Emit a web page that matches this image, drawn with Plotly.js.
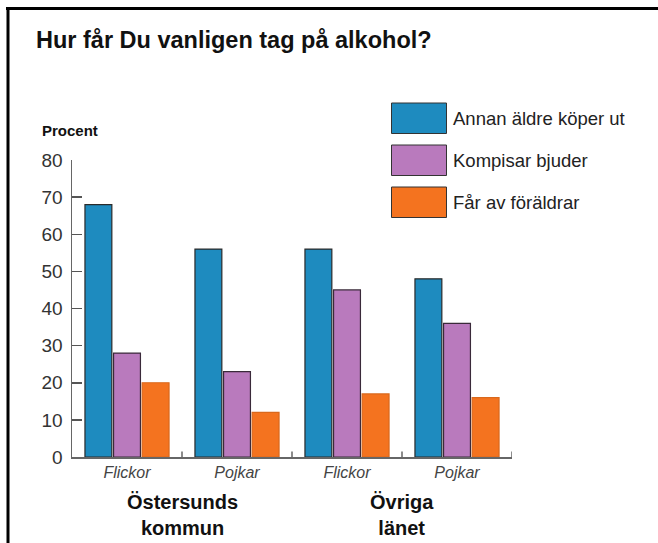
<!DOCTYPE html>
<html>
<head>
<meta charset="utf-8">
<script src="https://cdn.plot.ly/plotly-3.0.1.min.js"></script>
<style>
  html, body { margin: 0; padding: 0; background: #fff; }
  #chart { width: 658px; height: 543px; }
</style>
</head>
<body>
<div id="chart"></div>
<script>
// ---- Data ----
const categories = ["Flickor", "Pojkar", "Flickor", "Pojkar"];
const groups = ["Östersunds<br>kommun", "Övriga<br>länet"];
const seriesNames = ["Annan äldre köper ut", "Kompisar bjuder", "Får av föräldrar"];
const annanAldre = [68, 56, 56, 48];
const kompisar = [28, 23, 45, 36];
const foraldrar = [20, 12, 17, 16];
const yTicks = [0, 10, 20, 30, 40, 50, 60, 70, 80];
const titleText = "Hur får Du vanligen tag på alkohol?";
const yLabel = "Procent";

// ---- Styling ----
const colors = ["#1e8bbf", "#b97abd", "#f4731f"];
const outlines = ["#2a2a2a", "#3a2a3a", "#d9681c"];
const FONT = "Liberation Sans, Arial, Helvetica, sans-serif";

// layout geometry (pixels)
const W = 658, H = 543;
const M = { l: 72, r: 146, t: 160, b: 86 };
const PW = W - M.l - M.r, PH = H - M.t - M.b;
const px2x = p => (p - M.l) / PW;
const px2y = p => (H - M.b - p) / PH;

const xKeys = categories.map((c, i) => i);
const series = [annanAldre, kompisar, foraldrar];

const traces = series.map((vals, i) => ({
  type: "bar",
  name: seriesNames[i],
  x: xKeys,
  y: vals,
  marker: { color: colors[i], line: { color: outlines[i], width: 1.2 } },
  hoverinfo: "x+y+name",
  showlegend: false
}));

const shapes = [];
const annotations = [];

// frame lines (top and left)
shapes.push({ type: "line", xref: "paper", yref: "paper",
  x0: px2x(6), x1: px2x(660), y0: px2y(8.5), y1: px2y(8.5),
  line: { color: "#000", width: 3 } });
shapes.push({ type: "line", xref: "paper", yref: "paper",
  x0: px2x(8), x1: px2x(8), y0: px2y(7), y1: px2y(545),
  line: { color: "#000", width: 3 } });

// custom legend
const legTop = [103, 145, 187];
seriesNames.forEach((name, i) => {
  shapes.push({ type: "rect", xref: "paper", yref: "paper",
    x0: px2x(391.5), x1: px2x(446.5), y0: px2y(legTop[i]), y1: px2y(legTop[i] + 30.5),
    fillcolor: colors[i], line: { color: "#333", width: 1 } });
  annotations.push({ xref: "paper", yref: "paper",
    x: px2x(451), y: px2y(legTop[i] + 15), xanchor: "left", yanchor: "middle",
    text: name, showarrow: false,
    font: { family: FONT, size: 18.5, color: "#222" } });
});

// y-axis label
annotations.push({ xref: "paper", yref: "paper", x: px2x(40), y: px2y(131),
  xanchor: "left", yanchor: "middle", text: "<b>" + yLabel + "</b>", showarrow: false,
  font: { family: FONT, size: 15, color: "#111" } });

// group labels
groups.forEach((g, i) => {
  annotations.push({ xref: "x", yref: "paper", x: i * 2 + 0.5, y: px2y(489),
    xanchor: "center", yanchor: "top", text: "<b>" + g + "</b>", showarrow: false,
    align: "center",
    font: { family: FONT, size: 20, color: "#111" } });
});

const layout = {
  width: W, height: H,
  margin: M,
  paper_bgcolor: "#fff", plot_bgcolor: "#fff",
  title: { text: "<b>" + titleText + "</b>", x: 36 / W, xref: "container",
    xanchor: "left", yanchor: "middle", y: 1 - 40 / H, yref: "container",
    font: { family: FONT, size: 23.5, color: "#111" } },
  font: { family: FONT },
  barmode: "group",
  bargap: 0.22,
  bargroupgap: 0.06,
  xaxis: {
    type: "linear",
    range: [-0.5, 3.5],
    tickvals: xKeys,
    ticktext: categories.map(c => "<i>" + c + "</i>"),
    showline: true, linecolor: "#666", linewidth: 1.5,
    ticks: "", showgrid: false, zeroline: false,
    tickfont: { family: FONT, size: 16, color: "#444" },
    fixedrange: true
  },
  yaxis: {
    range: [0, 80],
    tickvals: yTicks,
    ticks: "inside", ticklen: 10, tickcolor: "#555", tickwidth: 1.5,
    showline: true, linecolor: "#666", linewidth: 1.5,
    showgrid: false, zeroline: false,
    tickfont: { family: FONT, size: 19, color: "#333" },
    ticklabelstandoff: 4,
    fixedrange: true
  },
  shapes: shapes,
  annotations: annotations
};

// x-axis boundary ticks (between categories), drawn on the axis scale
[0.5, 1.5, 2.5, 3.5].forEach(b => {
  shapes.push({ type: "line", xref: "x", yref: "y", x0: b, x1: b, y0: 0, y1: 1.5,
    line: { color: "#666", width: 1.5 } });
});

Plotly.newPlot("chart", traces, layout, { displayModeBar: false, staticPlot: true });
</script>
</body>
</html>
